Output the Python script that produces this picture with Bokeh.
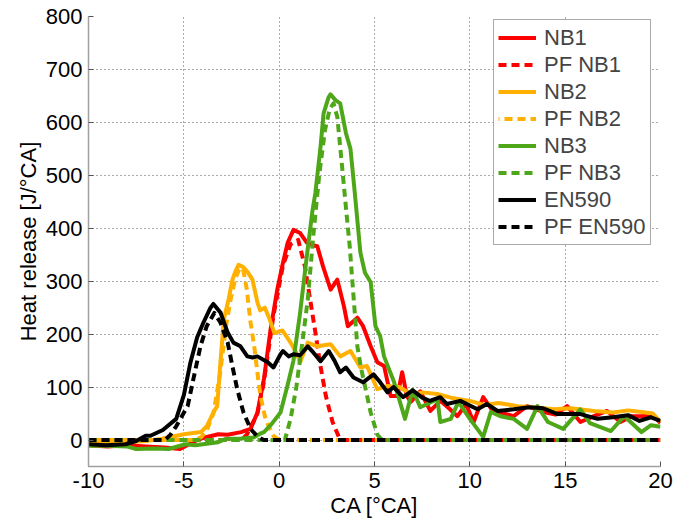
from bokeh.plotting import figure
from bokeh.models import FixedTicker, Range1d, Legend, LegendItem
from bokeh.embed import file_html
from bokeh.resources import INLINE

# ---- data ----
nb1_x = [-10, -9, -8, -7, -6, -5.2, -4.2, -3.2, -2.7, -2.0, -1.5, -1.14, -0.8, -0.45, -0.1, 0.2, 0.45, 0.75, 1.1,
         1.45, 1.75, 2.0, 2.3, 2.7, 3.05, 3.4, 3.6, 4.1, 4.4, 4.8, 5.15, 5.5, 5.85, 6.2, 6.45, 6.7, 6.9, 7.4, 7.93,
         8.45, 8.9, 9.35, 9.8, 10.2, 10.7, 11.2, 11.8, 12.3, 13.0, 13.85, 14.5, 15.1, 15.8, 16.5, 17.2, 17.9, 18.5,
         19.0, 19.6, 20]
nb1_y = [-10, -12, -10, -12, -14, -17, 2, 11, 10, 15, 21, 52, 115, 209, 284, 335, 373, 397, 391,
         373, 368, 366, 328, 284, 303, 252, 215, 231, 215, 177, 147, 140, 83, 83, 128, 83, 72, 92, 55,
         74, 60, 45, 68, 34, 81, 55, 50, 45, 64, 53, 48, 64, 34, 45, 55, 34, 45,
         45, 47, 32]

pf_nb1_x = [-10, -2.0, -1.7, -1.14, -0.8, -0.3, 0.2, 0.6, 1.0, 1.35, 1.6, 1.9, 2.17, 2.45, 2.8, 3.2, 20]
pf_nb1_y = [0, 0, 10, 50, 110, 235, 330, 370, 378, 328, 271, 203, 139, 83, 34, 0, 0]

nb2_x = [-10, -9, -8, -7, -6.2, -5.0, -4.1, -3.8, -3.45, -3.25, -3.08, -2.9, -2.65, -2.45, -2.3, -2.13, -1.9,
         -1.67, -1.4, -1.14, -1.0, -0.75, -0.5, -0.25, 0.17, 0.6, 0.9, 1.1, 1.5, 2.0, 2.7, 3.2, 3.74, 4.26, 4.6,
         5.15, 5.68, 6.3, 7.0, 7.5, 8.3, 9.0, 10.0, 10.8, 11.5, 12.5, 13.3, 14.4, 15.3, 16.5, 17.5, 18.3, 19.0,
         19.6, 20]
nb2_y = [-5, -6, -4, -2, 2, 11, 15, 26, 52, 64, 147, 228, 266, 303, 318, 331, 327,
         318, 303, 260, 245, 250, 228, 202, 207, 184, 165, 147, 184, 177, 181, 158, 168, 137, 140,
         96, 102, 100, 85, 90, 87, 80, 74, 66, 70, 64, 62, 58, 60, 55, 52, 56, 53,
         50, 34]

pf_nb2_x = [-10, -4.5, -4.1, -3.8, -3.45, -3.1, -2.8, -2.55, -2.3, -2.1, -1.9, -1.7, -1.5, -1.3, -1.1, -0.98,
            -0.75, -0.6, -0.3, 0.0, 20]
pf_nb2_y = [0, 0, 5, 18, 50, 125, 212, 265, 305, 322, 325, 285, 222, 175, 115, 83,
            45, 30, 8, 0, 0]

nb3_x = [-10, -9, -8, -7.5, -6.5, -5.8, -4.9, -4.4, -3.2, -2.8, -2.0, -1.35, -1.0, -0.8, -0.4, 0.07, 0.43, 0.75,
         1.1, 1.45, 1.73, 1.9, 2.17, 2.33, 2.6, 2.69, 2.95, 3.2, 3.5, 3.74, 3.95, 4.26, 4.5, 4.8, 5.05, 5.3, 5.5,
         6.02, 6.6, 7.0, 7.4, 8.3, 8.45, 9.0, 9.4, 10.0, 10.7, 11.1, 11.6, 12.3, 13.0, 13.55, 14.1, 14.9, 15.8,
         16.3, 17.4, 18.1, 19.0, 19.5, 20]
nb3_y = [-11, -11, -12, -17, -16, -17, -8, -10, -4, 2, 3, 5, 12, 15, 30, 52, 102, 150,
         241, 347, 429, 467, 554, 617, 648, 653, 642, 636, 580, 550, 473, 354, 316, 298, 215, 196, 158,
         110, 40, 95, 62, 77, 34, 40, 72, 40, 6, 53, 45, 40, 21, 64, 34, 21, 58,
         32, 17, 45, 15, 28, 25]

pf_nb3_x = [-10, 0.3, 0.6, 0.9, 1.2, 1.5, 1.8, 2.1, 2.4, 2.65, 2.85, 3.05, 3.2, 3.37, 3.5, 3.7, 3.9, 4.1, 4.3,
            4.5, 4.8, 5.15, 5.4, 20]
pf_nb3_y = [0, 0, 40, 100, 180, 265, 390, 500, 585, 625, 636, 610, 554, 490, 440, 366, 271, 177, 135,
            102, 52, 10, 0, 0]

en590_x = [-10, -9.1, -8.06, -7.5, -7.0, -6.75, -6.1, -5.4, -5.0, -4.65, -4.3, -3.97, -3.6, -3.45, -3.08, -2.7,
           -2.4, -2.03, -1.67, -1.4, -1.14, -0.6, -0.3, 0.07, 0.2, 0.5, 0.75, 1.1, 1.5, 1.8, 2.17, 2.6, 2.9, 3.2,
           3.5, 3.9, 4.4, 4.95, 5.3, 5.68, 6.0, 6.5, 7.0, 7.5, 7.9, 8.45, 8.8, 9.5, 10.4, 10.9, 11.45, 12.3, 13.1,
           13.85, 14.6, 15.8, 16.7, 17.5, 18.3, 18.9, 19.5, 20]
en590_y = [-8, -10, -8, -2, 8, 8, 19, 40, 85, 147, 194, 222, 250, 257, 241, 203,
           184, 177, 158, 156, 158, 147, 137, 162, 168, 158, 162, 160, 177, 165, 149, 168, 150, 128,
           137, 118, 109, 124, 109, 90, 100, 81, 94, 80, 74, 81, 68, 74, 58, 68, 55, 58, 62,
           60, 49, 49, 40, 43, 47, 36, 43, 36]

pf_en590_x = [-10, -6.0, -5.7, -5.4, -4.8, -4.5, -4.13, -3.8, -3.4, -3.08, -2.7, -2.45, -2.2, -1.87, -1.5, -1.1,
              -0.8, 20]
pf_en590_y = [0, 0, 10, 26, 64, 115, 177, 215, 240, 222, 184, 139, 96, 52, 21, 5,
              0, 0]

x_ticks = [-10, -5, 0, 5, 10, 15, 20]
x_tick_labels = ["-10", "-5", "0", "5", "10", "15", "20"]
y_ticks = [0, 100, 200, 300, 400, 500, 600, 700, 800]

RED = "#ff0000"
ORANGE = "#ffb000"
GREEN = "#4ea619"
BLACK = "#000000"

FONT = "Liberation Sans"
FS = "22px"

p = figure(width=686, height=522, output_backend="svg", toolbar_location=None,
           x_range=Range1d(-10, 20), y_range=Range1d(-50, 800),
           min_border_left=88, min_border_right=26, min_border_top=16, min_border_bottom=56)
p.outline_line_color = None
p.background_fill_color = "white"

for ax in (p.xaxis[0], p.yaxis[0]):
    ax.major_label_text_font = FONT
    ax.major_label_text_font_size = FS
    ax.major_label_text_color = "black"
    ax.axis_label_text_font = FONT
    ax.axis_label_text_font_size = FS
    ax.axis_label_text_font_style = "normal"
    ax.axis_label_text_color = "black"
    ax.axis_line_color = "#a0a0a0"
    ax.axis_line_width = 1.5
    ax.major_tick_in = 5
    ax.major_tick_out = 0
    ax.major_tick_line_color = "#555555"
    ax.minor_tick_line_color = None
    ax.major_label_standoff = 6
    ax.axis_label_standoff = 2

p.xaxis.ticker = FixedTicker(ticks=x_ticks)
p.xaxis.major_label_overrides = {t: s for t, s in zip(x_ticks, x_tick_labels)}
p.yaxis.ticker = FixedTicker(ticks=y_ticks)
p.xaxis.axis_label = "CA [°CA]"
p.yaxis.axis_label = "Heat release [J/°CA]"

for g in (p.xgrid[0], p.ygrid[0]):
    g.grid_line_color = "#555555"
    g.grid_line_dash = "1 3"
    g.grid_line_width = 1
p.xgrid.ticker = FixedTicker(ticks=x_ticks)
p.ygrid.ticker = FixedTicker(ticks=y_ticks)

LW = 4
DASH = "8 5"
series = [
    ("NB1", nb1_x, nb1_y, RED, "solid", 0),
    ("PF NB1", pf_nb1_x, pf_nb1_y, RED, DASH, 0),
    ("NB2", nb2_x, nb2_y, ORANGE, "solid", 0),
    ("PF NB2", pf_nb2_x, pf_nb2_y, ORANGE, DASH, 7),
    ("NB3", nb3_x, nb3_y, GREEN, "solid", 0),
    ("PF NB3", pf_nb3_x, pf_nb3_y, GREEN, DASH, 0),
    ("EN590", en590_x, en590_y, BLACK, "solid", 0),
    ("PF EN590", pf_en590_x, pf_en590_y, BLACK, DASH, 0),
]
items = []
for name, xs, ys, col, dash, off in series:
    r = p.line(xs, ys, line_color=col, line_width=LW, line_dash=dash, line_dash_offset=off,
               line_join="round")
    items.append(LegendItem(label=name, renderers=[r]))

legend = Legend(items=items, location=(405, 221), margin=0, padding=4, spacing=0,
                label_height=27, glyph_height=27, glyph_width=38, label_standoff=8,
                label_text_font=FONT, label_text_font_size=FS,
                border_line_color="#555555", border_line_width=1,
                background_fill_color="white", background_fill_alpha=1.0)
p.add_layout(legend, "center")

open("out.html", "w").write(file_html(p, INLINE))
